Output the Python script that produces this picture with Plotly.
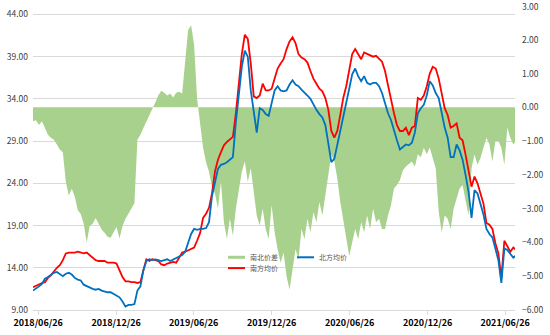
import pandas as pd
import plotly.graph_objects as go

# Weekly observations (week starting 2018-06-14)
start_date = "2018-06-14"

# 南方均价 (left axis)
south_avg = [
    11.7, 11.9, 12.1, 12.2, 12.3, 12.8, 13.1, 13.6, 14.0, 14.3,
    14.9, 15.7, 15.8, 15.8, 15.8, 15.9, 15.8, 15.7, 15.8, 15.5,
    15.1, 14.9, 14.8, 14.8, 14.8, 14.6, 14.6, 14.6, 14.5, 13.7,
    12.9, 12.4, 12.4, 12.3, 12.3, 12.2, 12.3, 13.7, 15.0, 14.8,
    15.0, 14.9, 14.8, 14.4, 14.3, 14.5, 14.6, 14.7, 14.6, 15.2,
    15.8, 15.9, 16.1, 16.3, 16.4, 17.2, 18.1, 19.9, 20.4, 21.1,
    22.8, 25.4, 26.8, 27.7, 28.5, 28.9, 29.2, 29.5, 32.3, 35.5,
    39.3, 41.6, 41.1, 38.2, 34.3, 34.1, 34.4, 35.8, 35.0, 35.0,
    35.2, 36.4, 37.6, 38.2, 38.7, 39.9, 40.8, 41.3, 40.6, 39.3,
    38.9, 38.7, 38.3, 37.3, 36.4, 35.8, 35.2, 34.9, 34.1, 32.7,
    30.2, 29.4, 30.2, 32.1, 34.1, 35.5, 37.6, 39.3, 39.9, 39.3,
    38.7, 39.5, 39.3, 39.1, 39.0, 39.1, 38.7, 38.4, 37.3, 35.5,
    33.7, 32.3, 30.9, 30.2, 30.2, 30.6, 29.7, 30.6, 30.8, 34.1,
    33.9, 34.4, 35.5, 37.0, 37.8, 37.6, 36.4, 34.7, 32.9, 32.1,
    30.6, 30.8, 31.1, 29.4, 29.1, 27.4, 25.7, 23.6, 24.8, 24.0,
    22.8, 21.6, 19.3, 19.1, 18.6, 16.9, 15.7, 12.8, 17.2, 16.6,
    15.9, 16.4, 16.1,
]

# 北方均价 (left axis)
north_avg = [
    11.3, 11.5, 11.8, 12.1, 12.7, 12.9, 13.2, 13.4, 13.5, 13.3,
    13.0, 13.3, 13.4, 13.2, 12.8, 12.6, 12.5, 12.0, 11.8, 11.7,
    11.5, 11.4, 11.5, 11.3, 11.2, 11.1, 11.1, 10.9, 10.8, 10.5,
    10.0, 9.4, 9.6, 9.6, 9.7, 11.3, 11.8, 13.7, 14.8, 15.0,
    14.9, 15.0, 14.9, 14.8, 14.9, 15.0, 14.8, 15.0, 15.1, 15.3,
    15.5, 15.9, 16.9, 18.0, 18.6, 18.5, 18.6, 18.6, 18.7, 19.4,
    22.5, 24.2, 25.7, 26.2, 26.3, 26.5, 26.8, 27.1, 31.2, 34.7,
    37.8, 39.7, 39.0, 35.0, 32.3, 30.0, 32.9, 32.7, 32.2, 32.0,
    33.5, 35.0, 35.5, 35.0, 34.9, 35.0, 35.7, 36.2, 35.7, 35.5,
    35.1, 34.8, 34.4, 34.0, 33.3, 32.7, 32.2, 31.8, 30.9, 28.8,
    26.5, 26.9, 28.5, 30.3, 31.8, 33.5, 35.2, 36.9, 37.6, 36.7,
    36.1, 36.7, 35.9, 35.7, 35.9, 35.9, 35.5, 34.7, 33.5, 32.3,
    31.5, 30.2, 29.1, 28.0, 28.3, 28.6, 28.5, 28.8, 30.0, 32.3,
    32.9, 33.3, 34.4, 36.1, 35.6, 34.7, 34.1, 32.4, 30.6, 29.4,
    27.1, 27.1, 28.6, 27.9, 26.8, 25.0, 23.0, 19.9, 23.2, 22.8,
    21.6, 20.3, 18.6, 18.0, 17.6, 16.3, 14.9, 12.2, 16.3, 16.1,
    15.7, 15.2, 15.5,
]

# 南北价差 (right axis)
spread = [
    -0.41, -0.38, -0.52, -0.41, -0.61, -0.81, -0.90, -0.96, -1.10, -1.25,
    -1.33, -2.20, -2.61, -2.41, -2.64, -3.04, -3.16, -3.45, -4.00, -3.51,
    -3.45, -3.28, -3.45, -3.62, -3.71, -3.83, -3.86, -3.68, -3.54, -3.88,
    -3.51, -3.30, -3.16, -2.99, -2.84, -0.96, -0.81, -0.61, -0.43, -0.23,
    -0.09, 0.14, 0.35, 0.49, 0.43, 0.35, 0.41, 0.29, 0.43, 0.46,
    0.41, 1.42, 2.29, 2.43, 1.86, 0.26, -0.46, -1.19, -1.62, -1.91,
    -2.35, -2.55, -3.00, -2.20, -3.40, -3.90, -3.30, -3.80, -3.00, -2.40,
    -1.90, -1.60, -2.20, -1.80, -2.60, -3.20, -3.50, -3.00, -3.60, -3.90,
    -2.90, -3.70, -4.20, -4.60, -4.30, -5.00, -5.40, -4.80, -4.20, -4.50,
    -3.60, -3.90, -3.30, -3.70, -3.10, -3.40, -2.80, -3.20, -2.60, -1.90,
    -1.40, -1.60, -2.10, -2.80, -3.30, -3.80, -4.40, -4.00, -3.60, -3.90,
    -3.40, -3.70, -3.20, -3.60, -3.00, -3.40, -3.30, -3.60, -3.60, -3.20,
    -2.90, -2.40, -2.30, -2.15, -1.86, -1.75, -1.68, -1.60, -1.75, -1.39,
    -1.48, -1.20, -1.39, -1.19, -1.50, -1.80, -3.10, -3.70, -3.20, -3.30,
    -3.60, -3.00, -2.70, -2.40, -2.30, -2.80, -3.20, -1.80, -1.40, -1.70,
    -1.50, -1.20, -0.90, -1.10, -1.60, -1.00, -1.00, -1.20, -1.70, -0.60,
    -0.90, -1.10, -1.00,
]

tick_dates = ["2018-06-26", "2018-12-26", "2019-06-26", "2019-12-26",
              "2020-06-26", "2020-12-26", "2021-06-26"]
price_ticks = [9, 14, 19, 24, 29, 34, 39, 44]
spread_ticks = [-6, -5, -4, -3, -2, -1, 0, 1, 2, 3]

dates = pd.date_range(start_date, periods=len(south_avg), freq="7D")

GREEN = "#A9D18E"
RED = "#FF0000"
BLUE = "#0070C0"
GRID = "#D9D9D9"
LABEL = "#404040"
FONT = "Noto Sans CJK SC"
TICK_FONT = dict(family=FONT, size=8.5, color=LABEL)

fig = go.Figure()

# spread area sits on the base axis (right side) so the price lines overlay it
fig.add_trace(go.Scatter(
    x=dates, y=spread, name="南北价差", yaxis="y",
    mode="lines", line=dict(width=0, color=GREEN),
    fill="tozeroy", fillcolor=GREEN, showlegend=False,
))
fig.add_trace(go.Scatter(
    x=dates, y=south_avg, name="南方均价", yaxis="y2",
    mode="lines", line=dict(width=1.8, color=RED), showlegend=False,
))
fig.add_trace(go.Scatter(
    x=dates, y=north_avg, name="北方均价", yaxis="y2",
    mode="lines", line=dict(width=1.8, color=BLUE), showlegend=False,
))

W, H = 550, 335
ML, MR, MT, MB = 33, 35, 6, 19.3
pw, ph = W - ML - MR, H - MT - MB


def px(xp):
    return (xp - ML) / pw


def py(yp):
    return (H - MB - yp) / ph


# legend drawn inside the plot area, lower middle
legend_items = [
    ("南北价差", GREEN, 228, 262, 3),
    ("北方均价", BLUE, 297, 262, 2),
    ("南方均价", RED, 228, 273, 2),
]
for text, color, x0, y0, lw in legend_items:
    fig.add_shape(type="line", xref="paper", yref="paper",
                  x0=px(x0), x1=px(x0 + 17), y0=py(y0), y1=py(y0),
                  line=dict(color=color, width=lw))
    fig.add_annotation(text=text, xref="paper", yref="paper",
                       x=px(x0 + 20), y=py(y0), xanchor="left", yanchor="middle",
                       showarrow=False, font=dict(family=FONT, size=7, color="#595959"))

# the topmost spread label sits at the very edge of the plot, so it is
# written as an annotation next to the axis
top_tick = spread_ticks[-1]
fig.add_annotation(text=f"{top_tick:.2f}", xref="paper", yref="y",
                   x=1, y=top_tick, xanchor="left", yanchor="middle",
                   xshift=5, showarrow=False, font=TICK_FONT)

fig.update_layout(
    width=W, height=H,
    margin=dict(l=ML, r=MR, t=MT, b=MB, pad=0),
    paper_bgcolor="white", plot_bgcolor="white",
    showlegend=False,
    xaxis=dict(
        type="date", range=["2018-06-14", "2021-07-19"],
        tickvals=tick_dates, tickformat="%Y/%m/%d",
        tickfont=dict(family=FONT, size=9, color="#000000", weight="bold"),
        showgrid=False, showline=True, linecolor=GRID, linewidth=1,
        ticks="outside", ticklen=4, tickcolor=GRID, zeroline=False,
    ),
    yaxis=dict(
        range=[spread_ticks[0], top_tick], tickvals=spread_ticks[:-1],
        tickformat=".2f", side="right", tickfont=TICK_FONT,
        showgrid=False, zeroline=False, showline=False, ticks="",
        ticklabelstandoff=6,
    ),
    yaxis2=dict(
        range=[9, 45], tickvals=price_ticks, tickformat=".2f",
        overlaying="y", side="left", tickfont=TICK_FONT,
        showgrid=True, gridcolor=GRID, gridwidth=1, zeroline=False,
        showline=False, ticks="", ticklabelstandoff=4,
    ),
)

fig.write_html("out.html")
